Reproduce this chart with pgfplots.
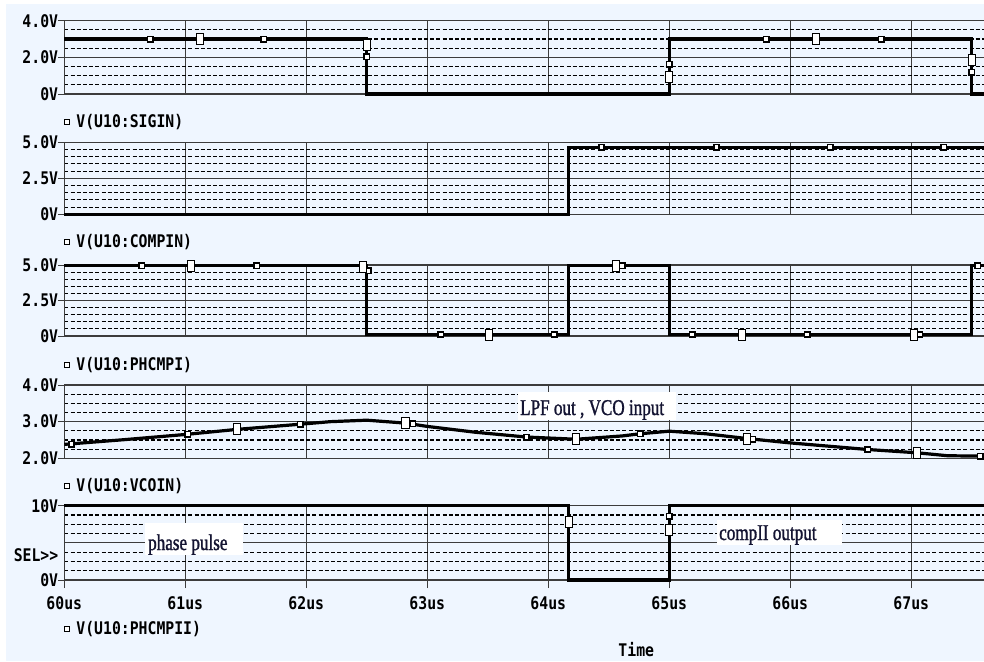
\documentclass[border=0pt]{standalone}
\usepackage{pgfplots}
\pgfplotsset{compat=1.18}
\usepackage{fontspec}
\setmainfont{Liberation Serif}
\newfontfamily\psfam[FakeStretch=0.85]{DejaVu Sans Mono}
\newfontfamily\annfam[FakeStretch=0.76,FakeBold=1.2]{Liberation Serif}
\newcommand\psf{\psfam\bfseries\fontsize{17.4pt}{18pt}\selectfont}
\newcommand\ann{\annfam\fontsize{22.5pt}{24pt}\selectfont}
\definecolor{bg}{RGB}{239,246,255}
\definecolor{gridc}{RGB}{60,60,60}
\definecolor{annc}{RGB}{20,20,50}
\pgfplotsset{
  psp/.style={
    scale only axis, width=930pt, xmin=60, xmax=67.686,
    clip=false,
    xtick={60,...,67},
    tick pos=left, tick align=outside,
    major tick length=6pt, minor tick length=0pt,
    tick style={line width=1pt, color=gridc},
    xticklabels={}, xtick style={draw=none},
    xmajorgrids, ymajorgrids, yminorgrids,
    major grid style={solid, line width=1pt, color=gridc},
    minor grid style={dash pattern=on 4pt off 2.2pt, line width=1.15pt, color=black},
    axis line style={line width=1.4pt, color=gridc},
    tick label style={font=\psf},
    yticklabel style={inner sep=0pt},
    legend style={draw=none, fill=none, at={(0,0)}, anchor=north west, inner sep=0pt,
      font=\psf, column sep=5pt, nodes={inner sep=1pt}, yshift=-19pt},
    legend cell align=left,
    legend image code/.code={\draw[line width=0.9pt,draw=black,fill=white] (0pt,-2.5pt) rectangle (5pt,2.5pt);},
  },
  trace/.style={black, line width=3.2pt, no marks},
  smk/.style={only marks, mark=square*, mark size=2.7pt, mark options={fill=white, draw=black, line width=1.6pt}, forget plot},
  lmk/.style={only marks, mark=square*, mark size=5.5pt, mark options={fill=white, draw=black, line width=0.9pt, xscale=0.65}, forget plot},
}
\begin{document}
\begin{tikzpicture}
\useasboundingbox (0pt,0pt) rectangle (984pt,-661pt);
\fill[white] (0pt,0pt) rectangle (984pt,-661pt);
\fill[bg] (6pt,-4pt) rectangle (984pt,-661pt);

% Panel 1: SIGIN
\begin{axis}[psp, at={(64.3pt,-94pt)}, anchor=south west, height=73.3pt,
  ymin=0, ymax=4, ytick={0,2,4}, yticklabels={0V,2.0V,4.0V},
  minor ytick={0.5,1,1.5,2.5,3,3.5}]
\addplot[trace] coordinates {(60,3.0) (62.5,3.0) (62.5,0) (65,0) (65,3.0) (67.5,3.0) (67.5,0) (67.8,0)};
\addlegendentry{V(U10:SIGIN)}
\addplot[smk] coordinates {(60.71,3) (61.65,3) (62.5,2.03) (65,1.63) (65.8,3) (66.75,3) (67.5,1.19)};
\addplot[lmk] coordinates {(61.12,3) (62.5,2.68) (65,0.95) (66.21,3) (67.5,1.86)};
\end{axis}

% Panel 2: COMPIN
\begin{axis}[psp, at={(64.3pt,-214.3pt)}, anchor=south west, height=72pt,
  ymin=0, ymax=5, ytick={0,2.5,5}, yticklabels={0V,2.5V,5.0V},
  minor ytick={0.5,1,1.5,2,3,3.5,4,4.5}]
\addplot[trace] coordinates {(60,0) (64.17,0) (64.17,4.65) (67.8,4.65)};
\addlegendentry{V(U10:COMPIN)}
\addplot[smk] coordinates {(64.44,4.65) (65.39,4.65) (66.33,4.65) (67.27,4.65)};
\end{axis}

% Panel 3: PHCMPI
\begin{axis}[psp, at={(64.3pt,-336pt)}, anchor=south west, height=71pt,
  ymin=0, ymax=5, ytick={0,2.5,5}, yticklabels={0V,2.5V,5.0V},
  minor ytick={0.5,1,1.5,2,3,3.5,4,4.5}, legend style={yshift=-1pt}]
\addplot[trace] coordinates {(60,4.95) (62.5,4.95) (62.5,0.1) (64.17,0.1) (64.17,4.95) (65,4.95) (65,0.1) (67.5,0.1) (67.5,4.95) (67.8,4.95)};
\addlegendentry{V(U10:PHCMPI)}
\addplot[smk] coordinates {(60.64,4.95) (61.59,4.95) (62.51,4.6) (63.11,0.1) (64.05,0.1) (64.61,4.95) (65.19,0.1) (66.14,0.1) (67.07,0.1) (67.55,4.95)};
\addplot[lmk] coordinates {(61.05,4.95) (62.47,4.85) (63.51,0.1) (64.56,4.95) (65.60,0.1) (67.02,0.1)};
\end{axis}

% Panel 4: VCOIN
\begin{axis}[psp, at={(64.3pt,-458.3pt)}, anchor=south west, height=73.3pt,
  ymin=2, ymax=4, ytick={2,3,4}, yticklabels={2.0V,3.0V,4.0V},
  minor ytick={2.25,2.5,2.75,3.25,3.5,3.75}]
\addplot[trace] coordinates {(60.0,2.38) (60.5,2.51) (61.0,2.65) (61.43,2.79) (61.95,2.93) (62.2,3.0) (62.5,3.04) (62.82,2.96) (63.0,2.87) (63.4,2.71) (63.82,2.58) (64.23,2.52) (64.61,2.61) (64.76,2.67) (65.0,2.74) (65.3,2.67) (65.64,2.54) (66.0,2.42) (66.64,2.24) (67.05,2.15) (67.3,2.07) (67.8,2.05)};
\addlegendentry{V(U10:VCOIN)}
\addplot[smk] coordinates {(60.06,2.38) (61.02,2.66) (61.95,2.93) (62.88,2.94) (63.82,2.58) (64.76,2.67) (65.69,2.52) (66.64,2.24) (67.57,2.06)};
\addplot[lmk] coordinates {(61.43,2.79) (62.82,2.96) (64.23,2.52) (65.64,2.54) (67.05,2.15)};
\end{axis}

% Panel 5: PHCMPII
\begin{axis}[psp, at={(64.3pt,-580pt)}, anchor=south west, height=74.3pt,
  ymin=0, ymax=10, ytick={0,10}, yticklabels={0V,10V},
  minor ytick={1.25,2.5,3.75,6.25,7.5,8.75},
  extra y ticks={5}, extra y tick labels={}, extra y tick style={grid=major, major tick length=0pt},
  xticklabels={60us,61us,62us,63us,64us,65us,66us,67us},
  xtick style={draw=gridc, /pgfplots/major tick length=8pt},
  xticklabel style={inner sep=0pt, yshift=-10pt},
  xlabel={Time}, xlabel style={font=\psf, inner sep=0pt, at={(axis description cs:0.615,0)}, anchor=center, yshift=-70pt},
  legend style={yshift=-21pt}]
\addplot[trace] coordinates {(60,10) (64.17,10) (64.17,0) (65,0) (65,10) (67.8,10)};
\addlegendentry{V(U10:PHCMPII)}
\addplot[smk] coordinates {(65,8.6)};
\addplot[lmk] coordinates {(64.17,7.8) (65,6.7)};
\end{axis}

\node[font=\psf, anchor=east, inner sep=0pt] at (58.5pt,-555pt) {SEL>\kern0pt>};

\fill[white] (145pt,-523pt) rectangle (243pt,-555pt);
\node[anchor=base west, inner sep=0pt, font=\ann, text=annc] at (148pt,-550pt) {phase pulse};
\fill[white] (518pt,-392pt) rectangle (676pt,-420pt);
\node[anchor=base west, inner sep=0pt, font=\ann, text=annc] at (520pt,-415pt) {LPF out , VCO input};
\fill[white] (717pt,-520pt) rectangle (842pt,-545pt);
\node[anchor=base west, inner sep=0pt, font=\ann, text=annc] at (719pt,-540pt) {compII output};
\end{tikzpicture}
\end{document}
